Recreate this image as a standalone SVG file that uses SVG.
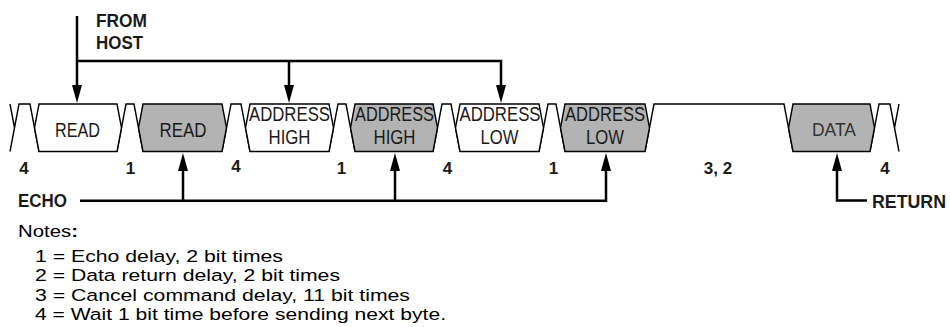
<svg xmlns="http://www.w3.org/2000/svg" width="950" height="327" viewBox="0 0 950 327">
<style>
.box{stroke:#000;stroke-width:1.4;stroke-linejoin:miter}
.w{fill:#fff}
.g{fill:#b3b3b3}
.sig{fill:none;stroke:#000;stroke-width:1.4}
.bt{font-family:"Liberation Sans",Arial,sans-serif;font-size:20.5px;fill:#1a1a1a;text-anchor:middle}
.lbl{font-family:"Liberation Sans",Arial,sans-serif;font-weight:bold;font-size:19px;fill:#1a1a1a}
.num{font-family:"Liberation Sans",Arial,sans-serif;font-weight:bold;font-size:17px;fill:#1a1a1a;text-anchor:middle}
.note{font-family:"Liberation Sans",Arial,sans-serif;font-size:17.4px;fill:#000}
.con{fill:none;stroke:#000;stroke-width:2.5;marker-end:url(#ah)}
</style>
<defs>
<marker id="ah" markerUnits="userSpaceOnUse" viewBox="0 -5 18 10" markerWidth="18" markerHeight="10" refX="2" refY="0" orient="auto">
<path d="M0,-5 L18,0 L0,5 Z" fill="#000"/>
</marker>
</defs>
<rect width="950" height="327" fill="#fff"/>

<g id="signal" class="sig">
<path d="M10,104 L14.5,127.75 M10,151.5 L19,104 H30 L39,151.5"/>
<path d="M117,151.5 L126,104 H134 L143,151.5"/>
<path d="M222,151.5 L231,104 H241 L250,151.5"/>
<path d="M329,151.5 L338,104 H346 L355,151.5"/>
<path d="M433,151.5 L442,104 H451 L460,151.5"/>
<path d="M539,151.5 L548,104 H556 L565,151.5"/>
<path d="M645,151.5 L654,104 H784 L793,151.5"/>
<path d="M870,151.5 L879,104 H890 L899,151.5 M894.5,127.75 L899,104"/>
</g>

<g id="read-host">
<path class="box w" d="M39,104 H117 L121.5,127.75 L117,151.5 H39 L34.5,127.75 Z"/>
<text class="bt" x="77.5" y="137" textLength="45" lengthAdjust="spacingAndGlyphs">READ</text>
</g>
<g id="read-echo">
<path class="box g" d="M143,104 H222 L226.5,127.75 L222,151.5 H143 L138.5,127.75 Z"/>
<text class="bt" x="183" y="136.5" textLength="47" lengthAdjust="spacingAndGlyphs">READ</text>
</g>
<g id="addrhigh-host">
<path class="box w" d="M250,104 H329 L333.5,127.75 L329,151.5 H250 L245.5,127.75 Z"/>
<text class="bt" x="289.5" y="121" textLength="81" lengthAdjust="spacingAndGlyphs">ADDRESS</text>
<text class="bt" x="289.5" y="143.5" textLength="42" lengthAdjust="spacingAndGlyphs">HIGH</text>
</g>
<g id="addrhigh-echo">
<path class="box g" d="M355,104 H433 L437.5,127.75 L433,151.5 H355 L350.5,127.75 Z"/>
<text class="bt" x="394.5" y="121" textLength="79" lengthAdjust="spacingAndGlyphs">ADDRESS</text>
<text class="bt" x="394.5" y="143.5" textLength="42" lengthAdjust="spacingAndGlyphs">HIGH</text>
</g>
<g id="addrlow-host">
<path class="box w" d="M460,104 H539 L543.5,127.75 L539,151.5 H460 L455.5,127.75 Z"/>
<text class="bt" x="500" y="121" textLength="81" lengthAdjust="spacingAndGlyphs">ADDRESS</text>
<text class="bt" x="499.5" y="143.5" textLength="38" lengthAdjust="spacingAndGlyphs">LOW</text>
</g>
<g id="addrlow-echo">
<path class="box g" d="M565,104 H645 L649.5,127.75 L645,151.5 H565 L560.5,127.75 Z"/>
<text class="bt" x="605" y="121" textLength="80" lengthAdjust="spacingAndGlyphs">ADDRESS</text>
<text class="bt" x="605" y="143.5" textLength="38" lengthAdjust="spacingAndGlyphs">LOW</text>
</g>
<g id="data">
<path class="box g" d="M793,104 H870 L874.5,127.75 L870,151.5 H793 L788.5,127.75 Z"/>
<text class="bt" x="834" y="136" style="font-size:18.5px;fill:#333" textLength="44" lengthAdjust="spacingAndGlyphs">DATA</text>
</g>

<g id="connectors">
<path class="con" d="M77,16 V87"/>
<path class="con" d="M77,61 H501 V87"/>
<path class="con" d="M289,61 V87"/>
<path class="con" d="M80,200.7 H606 V169"/>
<path class="con" d="M183,200.7 V169"/>
<path class="con" d="M395,200.7 V169"/>
<path class="con" d="M867,200.5 H837 V169"/>
</g>

<g id="labels">
<text class="lbl" x="96" y="27" textLength="51" lengthAdjust="spacingAndGlyphs">FROM</text>
<text class="lbl" x="96" y="49" textLength="47" lengthAdjust="spacingAndGlyphs">HOST</text>
<text class="lbl" x="18" y="207" textLength="49" lengthAdjust="spacingAndGlyphs">ECHO</text>
<text class="lbl" x="872" y="208" style="font-size:18px" textLength="74" lengthAdjust="spacingAndGlyphs">RETURN</text>
</g>

<g id="delays">
<text class="num" x="24" y="173.5">4</text>
<text class="num" x="130.5" y="173.5">1</text>
<text class="num" x="236" y="171.5">4</text>
<text class="num" x="341.5" y="173.5">1</text>
<text class="num" x="447.5" y="173.5">4</text>
<text class="num" x="553.5" y="173.5">1</text>
<text class="num" x="718" y="173.5">3, 2</text>
<text class="num" x="885" y="173.5">4</text>
</g>

<g id="notes">
<text class="note" x="18" y="236.5" textLength="60" lengthAdjust="spacingAndGlyphs">Notes<tspan font-weight="bold">:</tspan></text>
<text class="note" x="35" y="261.5" textLength="248" lengthAdjust="spacingAndGlyphs">1 = Echo delay, 2 bit times</text>
<text class="note" x="35" y="281" textLength="305" lengthAdjust="spacingAndGlyphs">2 = Data return delay, 2 bit times</text>
<text class="note" x="35" y="300.5" textLength="375" lengthAdjust="spacingAndGlyphs">3 = Cancel command delay, 11 bit times</text>
<text class="note" x="35" y="320" textLength="411" lengthAdjust="spacingAndGlyphs">4 = Wait 1 bit time before sending next byte.</text>
</g>
</svg>
